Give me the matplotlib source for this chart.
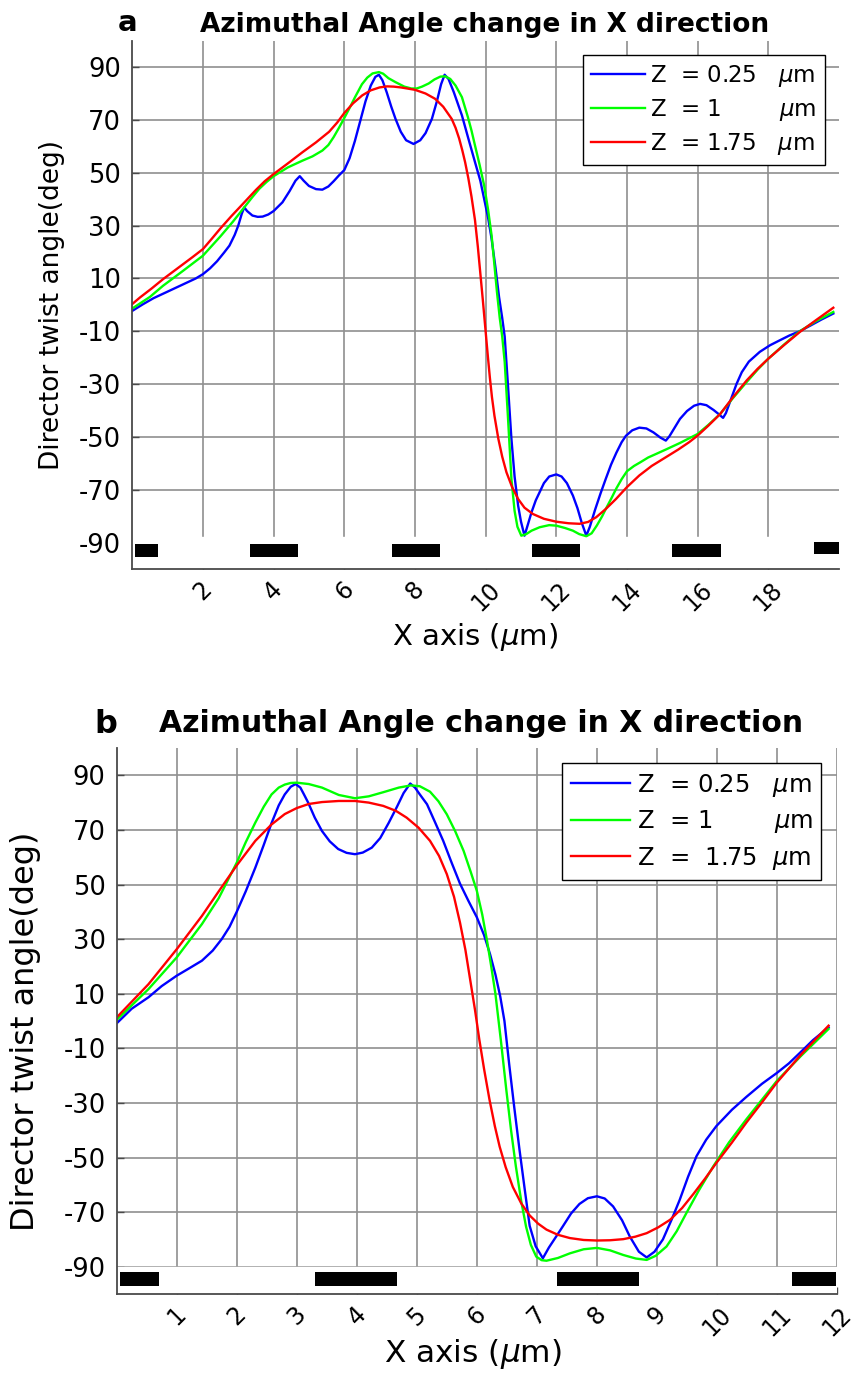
import numpy as np
import matplotlib.pyplot as plt
import matplotlib.transforms as mtransforms

# ---- panel a data (x in um, angle in deg) ----
a_blue_x = [0, 0.3, 0.6, 1.0, 1.4, 1.8, 2.0, 2.2, 2.4, 2.6, 2.75, 2.9, 3.0, 3.1, 3.17, 3.25, 3.4, 3.55, 3.69,
            3.85, 4.0, 4.25, 4.45, 4.62, 4.74, 4.85, 5.0, 5.2, 5.38, 5.55, 5.7, 5.85, 6.0, 6.15, 6.3, 6.45,
            6.6, 6.75, 6.88, 6.98, 7.08, 7.2, 7.33, 7.45, 7.6, 7.75, 7.96, 8.15, 8.3, 8.48, 8.62, 8.74, 8.84,
            8.95, 9.1, 9.33, 9.5, 9.7, 9.85, 9.96, 10.07, 10.17, 10.28, 10.38, 10.47, 10.54, 10.63, 10.73,
            10.82, 10.92, 11.0, 11.1, 11.2, 11.3, 11.42, 11.53, 11.65, 11.8, 12.0, 12.15, 12.3, 12.47, 12.6,
            12.72, 12.85, 12.95, 13.1, 13.25, 13.4, 13.55, 13.7, 13.85, 13.97, 14.15, 14.35, 14.55, 14.75,
            14.95, 15.1, 15.2, 15.35, 15.5, 15.7, 15.9, 16.07, 16.25, 16.45, 16.59, 16.72, 16.8, 16.95, 17.1,
            17.25, 17.45, 17.76, 18.05, 18.33, 18.6, 18.89, 19.2, 19.5, 19.84]
a_blue_y = [-2.3, 0.2, 2.5, 5.0, 7.5, 10.0, 11.6, 13.8, 16.5, 19.8, 22.4, 26.5, 30.0, 34.5, 36.9, 35.5, 33.8, 33.3, 33.4,
            34.2, 35.5, 38.8, 43.0, 47.0, 48.7, 47.0, 45.0, 43.8, 43.6, 44.8, 46.8, 49.0, 51.0, 55.5, 62.0, 69.5,
            77.0, 83.0, 86.3, 87.1, 85.0, 80.5, 75.0, 70.4, 65.5, 62.3, 60.9, 62.3, 65.0, 70.4, 77.0, 83.5, 87.1,
            85.5, 80.5, 71.7, 63.5, 54.0, 47.0, 40.0, 33.0, 24.9, 14.0, 3.0, -5.0, -12.0, -30.0, -50.7,
            -65.0, -76.0, -82.0, -87.4, -83.0, -78.5, -74.0, -70.9, -67.5, -65.0, -64.2, -65.0, -67.5, -72.2, -77.0,
            -82.5, -87.4, -84.0, -77.5, -71.5, -65.9, -60.5, -56.0, -52.0, -49.6, -47.5, -46.5, -46.8, -48.3,
            -50.3, -51.4, -49.8, -46.5, -43.2, -40.2, -38.2, -37.5, -38.0, -39.8, -41.3, -42.8, -41.0, -35.5, -30.0,
            -25.5, -21.5, -17.8, -15.3, -13.4, -11.6, -10.0, -7.8, -5.6, -3.3]

a_green_x = [0, 0.5, 0.87, 1.44, 2.0, 2.5, 2.85, 3.17, 3.4, 3.6, 3.8, 4.0, 4.4, 4.82, 5.1, 5.38, 5.55, 5.7,
             5.85, 6.0, 6.15, 6.3, 6.5, 6.65, 6.8, 6.98, 7.1, 7.25, 7.45, 7.7, 7.9, 8.05, 8.2, 8.39, 8.55,
             8.72, 8.86, 9.0, 9.15, 9.33, 9.5, 9.6, 9.7, 9.83, 9.96, 10.07, 10.17, 10.25, 10.32, 10.4, 10.47,
             10.54, 10.63, 10.73, 10.82, 10.9, 11.01, 11.15, 11.3, 11.53, 11.8, 12.0, 12.25, 12.47, 12.65,
             12.85, 13.0, 13.15, 13.3, 13.4, 13.55, 13.7, 13.85, 14.0, 14.2, 14.38, 14.6, 14.85, 15.13, 15.5,
             16.0, 16.3, 16.64, 17.0, 17.39, 17.7, 18.0, 18.45, 18.89, 19.35, 19.84]
a_green_y = [-1.4, 3.0, 7.2, 12.9, 18.6, 26.0, 31.5, 36.9, 40.8, 44.0, 46.5, 48.7, 52.0, 54.6, 56.2, 58.4, 60.5, 63.5,
             67.0, 70.7, 74.5, 78.5, 83.5, 86.0, 87.6, 88.1, 87.5, 85.8, 84.3, 82.6, 81.9, 81.9, 82.6, 83.8, 85.3,
             86.4, 86.5, 85.5, 83.0, 78.6, 71.0, 66.0, 60.3, 53.0, 45.1, 36.0, 26.2, 15.0, 5.0, -5.0, -12.0,
             -21.6, -42.0, -65.9, -78.0, -84.0, -87.4, -86.8, -85.5, -84.2, -83.4, -83.6, -84.5, -85.5, -86.8,
             -87.6, -86.5, -83.5, -80.0, -77.3, -73.5, -69.5, -66.0, -63.0, -61.0, -59.6, -57.8, -56.3, -54.6, -52.3,
             -48.9, -45.5, -41.3, -35.3, -29.2, -24.5, -20.4, -15.0, -10.0, -6.2, -2.7]

a_red_x = [0, 0.22, 0.55, 0.87, 1.15, 1.44, 1.7, 2.0, 2.25, 2.5, 2.8, 3.13, 3.5, 3.75, 4.0, 4.4, 4.82, 5.2,
           5.57, 5.8, 6.0, 6.25, 6.51, 6.75, 7.0, 7.21, 7.4, 7.6, 8.0, 8.3, 8.57, 8.8, 9.04, 9.15, 9.25, 9.34,
           9.42, 9.51, 9.6, 9.7, 9.78, 9.85, 9.92, 10.0, 10.06, 10.12, 10.18, 10.25, 10.36, 10.47, 10.59,
           10.75, 10.92, 11.1, 11.34, 11.65, 12.0, 12.35, 12.66, 12.9, 13.13, 13.4, 13.69, 14.0, 14.35, 14.7,
           15.1, 15.45, 15.76, 16.0, 16.3, 16.64, 17.0, 17.39, 17.7, 18.0, 18.45, 18.89, 19.35, 19.84]
a_red_y = [0.3, 2.8, 6.2, 9.7, 12.5, 15.4, 18.0, 21.1, 25.0, 29.0, 33.5, 38.2, 43.5, 46.8, 49.5, 53.5, 57.8, 61.5,
           65.5, 69.0, 72.6, 76.3, 79.3, 81.2, 82.3, 82.7, 82.6, 82.3, 81.4, 80.0, 78.0, 75.0, 70.4, 67.0, 63.0, 58.5,
           54.0, 48.0, 41.0, 32.0, 22.0, 12.0, 2.0, -10.0, -19.0, -27.5, -35.0, -42.0, -50.7, -57.5, -63.4,
           -69.0, -73.5, -76.8, -79.2, -81.0, -82.1, -82.7, -82.9, -82.2, -80.4, -77.3, -73.5, -69.0, -64.6, -61.0,
           -57.7, -54.8, -52.0, -49.5, -45.8, -41.3, -35.0, -28.6, -24.2, -20.4, -15.2, -10.3, -5.8, -1.1]

a_bar_start = [0.09, 3.32, 7.36, 11.30, 15.28, 19.30]
a_bar_end = [0.72, 4.69, 8.71, 12.66, 16.65, 20.10]
a_bar_low = [-95.5, -95.5, -95.5, -95.5, -95.5, -94.3]
a_bar_high = [-90.5, -90.5, -90.5, -90.5, -90.5, -89.6]

# ---- panel b data ----
b_blue_x = [0, 0.25, 0.53, 0.75, 1.0, 1.2, 1.42, 1.6, 1.75, 1.88, 2.0, 2.15, 2.31, 2.45, 2.58, 2.7, 2.8, 2.9,
            2.98, 3.06, 3.12, 3.19, 3.3, 3.42, 3.55, 3.69, 3.83, 3.97, 4.1, 4.25, 4.39, 4.53, 4.67, 4.78, 4.89,
            4.97, 5.05, 5.17, 5.3, 5.44, 5.58, 5.72, 5.86, 6.0, 6.12, 6.22, 6.31, 6.39, 6.46, 6.54, 6.62, 6.71,
            6.8, 6.88, 6.98, 7.1, 7.2, 7.32, 7.43, 7.57, 7.71, 7.85, 8.0, 8.13, 8.27, 8.42, 8.55, 8.7, 8.83,
            8.96, 9.1, 9.24, 9.38, 9.52, 9.66, 9.82, 9.99, 10.25, 10.49, 10.75, 11.0, 11.2, 11.39, 11.6, 11.86]
b_blue_y = [-0.85, 4.5, 8.7, 12.8, 16.6, 19.2, 22.1, 25.8, 30.0, 34.5, 40.0, 47.5, 56.2, 64.5, 72.5, 79.0, 83.0, 85.8,
            86.8, 85.5, 83.0, 80.0, 74.5, 69.6, 65.8, 63.0, 61.6, 61.1, 61.7, 63.5, 67.0, 72.5, 78.5, 83.5, 87.0,
            85.5, 83.0, 79.4, 73.0, 66.0, 58.0, 50.3, 44.0, 38.0, 31.5, 24.5, 17.0, 9.0, 0.0, -16.0, -31.0, -47.0,
            -62.0, -75.0, -82.5, -86.9, -83.0, -79.0, -75.3, -70.5, -67.0, -64.9, -64.2, -65.0, -67.9, -73.0, -79.0, -84.5, -86.6,
            -84.5, -80.0, -73.0, -65.5, -57.0, -49.5, -43.5, -38.5, -32.5, -27.8, -23.0, -19.0, -15.5, -11.5, -7.0, -2.3]

b_green_x = [0, 0.53, 1.0, 1.42, 1.7, 2.0, 2.15, 2.31, 2.45, 2.58, 2.7, 2.8, 2.9, 3.0, 3.2, 3.42, 3.7, 3.97,
             4.2, 4.44, 4.7, 4.9, 5.05, 5.22, 5.36, 5.5, 5.64, 5.78, 5.9, 6.0, 6.09, 6.17, 6.24, 6.31, 6.4,
             6.49, 6.57, 6.65, 6.74, 6.82, 6.9, 6.99, 7.08, 7.16, 7.35, 7.55, 7.78, 8.0, 8.22, 8.44, 8.65,
             8.83, 8.98, 9.16, 9.33, 9.49, 9.7, 9.94, 10.2, 10.49, 10.75, 11.0, 11.4, 11.86]
b_green_y = [0.4, 11.7, 23.3, 35.5, 45.0, 58.0, 65.5, 72.7, 78.5, 83.0, 85.5, 86.6, 87.2, 87.3, 86.8, 85.5, 82.8, 81.6,
             82.3, 83.8, 85.5, 86.3, 86.0, 84.0, 80.5, 75.7, 69.5, 62.3, 54.5, 47.7, 39.0, 29.4, 20.0, 9.9, -7.0,
             -25.0, -40.0, -53.2, -66.0, -75.3, -82.0, -86.3, -87.6, -87.8, -86.8, -85.1, -83.6, -83.1, -84.0, -85.7, -87.0,
             -87.5, -86.0, -82.6, -77.0, -70.4, -62.0, -53.2, -44.5, -36.0, -28.8, -21.9, -12.8, -2.9]

b_red_x = [0, 0.53, 1.0, 1.42, 1.7, 2.0, 2.31, 2.58, 2.8, 3.0, 3.2, 3.42, 3.7, 3.97, 4.2, 4.44, 4.65, 4.83,
           5.03, 5.22, 5.37, 5.5, 5.62, 5.72, 5.81, 5.89, 5.97, 6.04, 6.12, 6.21, 6.3, 6.38, 6.48, 6.6, 6.74,
           6.88, 7.02, 7.16, 7.35, 7.55, 7.78, 8.0, 8.22, 8.44, 8.64, 8.83, 9.02, 9.22, 9.42, 9.61, 9.8, 9.99,
           10.25, 10.49, 10.75, 11.0, 11.4, 11.86]
b_red_y = [1.3, 13.5, 26.3, 38.5, 47.5, 57.0, 66.0, 72.0, 75.8, 78.0, 79.5, 80.2, 80.6, 80.6, 80.0, 78.8, 77.0, 74.5,
           70.8, 66.0, 60.5, 53.8, 45.5, 36.0, 26.0, 15.0, 4.0, -6.6, -17.5, -28.7, -38.5, -46.0, -53.5, -60.8, -66.8,
           -71.2, -74.2, -76.4, -78.3, -79.5, -80.2, -80.4, -80.3, -79.9, -79.0, -77.7, -75.6, -72.8, -68.5, -63.3, -57.8, -52.0,
           -44.5, -37.2, -29.8, -22.5, -12.3, -1.7]

b_bar_start = [0.06, 3.30, 7.33, 11.25]
b_bar_end = [0.71, 4.67, 8.70, 11.98]
b_bar_low = [-97.2, -97.2, -97.2, -97.2]
b_bar_high = [-92.0, -92.0, -92.0, -92.0]

y_ticks = [-90, -70, -50, -30, -10, 10, 30, 50, 70, 90]
a_xticks = [2, 4, 6, 8, 10, 12, 14, 16, 18]
b_xticks = [1, 2, 3, 4, 5, 6, 7, 8, 9, 10, 11, 12]
a_labels = ["Z  = 0.25   $\\mu$m", "Z  = 1        $\\mu$m", "Z  = 1.75   $\\mu$m"]
b_labels = ["Z  = 0.25   $\\mu$m", "Z  = 1        $\\mu$m", "Z  =  1.75  $\\mu$m"]
colors = ["#0000ff", "#00ff00", "#ff0000"]


def panel(ax, xs, ys, labels, bars, band_top, xmax, xticks, tick_fs, leg_fs, leg_anchor, handlelen, lspace):
    for x, y, c, lab in zip(xs, ys, colors, labels):
        ax.plot(x, y, color=c, lw=1.7, label=lab, zorder=2, solid_joinstyle="round")
    ax.axhspan(-100, band_top, color="white", zorder=1)
    s, e, lo, hi = bars
    ax.bar(s, np.array(hi) - np.array(lo), width=np.array(e) - np.array(s), bottom=lo,
           align="edge", color="black", zorder=3)
    ax.set_xlim(0, xmax)
    ax.set_ylim(-100, 100)
    ax.set_axisbelow(True)
    ax.grid(True, color="#8f8f8f", lw=1.2)
    for sp in ["top", "right"]:
        ax.spines[sp].set_visible(False)
    for sp in ["left", "bottom"]:
        ax.spines[sp].set_color("#4a4a4a")
        ax.spines[sp].set_linewidth(1.3)
    ax.set_yticks(y_ticks)
    ax.set_yticklabels([str(v) for v in y_ticks], fontsize=tick_fs)
    ax.set_xticks(xticks)
    ax.set_xticklabels([str(v) for v in xticks], fontsize=17, rotation=45, ha="center", va="top")
    off = mtransforms.ScaledTranslation(0.12, -0.03, ax.figure.dpi_scale_trans)
    for t in ax.get_xticklabels():
        t.set_transform(t.get_transform() + off)
    ax.tick_params(direction="in", length=5, color="#4a4a4a", width=1, pad=8)
    ax.tick_params(axis="x", pad=6)
    leg = ax.legend(loc="upper right", bbox_to_anchor=leg_anchor, borderaxespad=0, fontsize=leg_fs,
                    fancybox=False, framealpha=1, edgecolor="black", handlelength=handlelen,
                    handletextpad=0.25, labelspacing=lspace, borderpad=0.35)
    leg.get_frame().set_linewidth(1.0)


fig = plt.figure(figsize=(8.65, 13.74), dpi=100)

ax1 = fig.add_axes([0.1529, 0.5859, 0.817, 0.3845])
panel(ax1, [a_blue_x, a_green_x, a_red_x], [a_blue_y, a_green_y, a_red_y], a_labels,
      (a_bar_start, a_bar_end, a_bar_low, a_bar_high), -88, 20, a_xticks, 18.5, 16.5, (0.98, 0.973), 2.35, 0.35)

ax2 = fig.add_axes([0.1349, 0.0582, 0.8327, 0.3974])
panel(ax2, [b_blue_x, b_green_x, b_red_x], [b_blue_y, b_green_y, b_red_y], b_labels,
      (b_bar_start, b_bar_end, b_bar_low, b_bar_high), -90, 12, b_xticks, 18.5, 17.5, (0.978, 0.9725), 2.45, 0.4)

# titles, panel letters and axis labels
fig.text(127.5 / 865, 1 - 31 / 1374, "a", fontsize=21, fontweight="bold", ha="center", va="baseline")
fig.text(485 / 865, 1 - 31.5 / 1374, "Azimuthal Angle change in X direction", fontsize=19,
         fontweight="bold", ha="center", va="baseline")
fig.text(106 / 865, 1 - 733 / 1374, "b", fontsize=23, fontweight="bold", ha="center", va="baseline")
fig.text(481 / 865, 1 - 732 / 1374, "Azimuthal Angle change in X direction", fontsize=21.5,
         fontweight="bold", ha="center", va="baseline")

fig.text(52 / 865, 1 - 305 / 1374, "Director twist angle(deg)", fontsize=19, rotation=90,
         ha="center", va="center")
fig.text(26 / 865, 1 - 1031 / 1374, "Director twist angle(deg)", fontsize=23, rotation=90,
         ha="center", va="center")

fig.text(475 / 865, 1 - 645 / 1374, "X axis ($\\mu$m)", fontsize=21, ha="center", va="baseline")
fig.text(473 / 865, 1 - 1362 / 1374, "X axis ($\\mu$m)", fontsize=22.5, ha="center", va="baseline")

fig.savefig("out.png", dpi=100)
plt.close()
